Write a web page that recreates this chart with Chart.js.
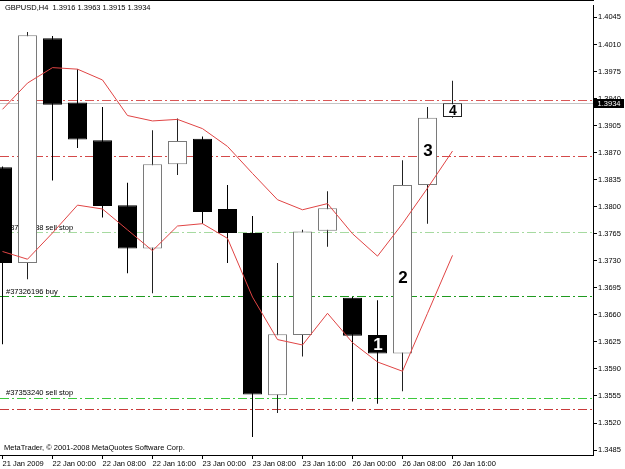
<!DOCTYPE html>
<html>
<head>
<meta charset="utf-8">
<script src="https://cdn.jsdelivr.net/npm/chart.js@4.4.1/dist/chart.umd.min.js"></script>
<style>
html,body{margin:0;padding:0;background:#fff;}
canvas{display:block;}
</style>
</head>
<body>
<canvas id="c" width="625" height="469"></canvas>
<script>
// ---------- DATA ----------
const symbolTitle = "GBPUSD,H4  1.3916 1.3963 1.3915 1.3934";
const copyrightText = "MetaTrader, \u00A9 2001-2008 MetaQuotes Software Corp.";

const barTimes = ["21 Jan 16:00","21 Jan 20:00","22 Jan 00:00","22 Jan 04:00","22 Jan 08:00","22 Jan 12:00",
  "22 Jan 16:00","22 Jan 20:00","23 Jan 00:00","23 Jan 04:00","23 Jan 08:00","23 Jan 12:00",
  "23 Jan 16:00","23 Jan 20:00","26 Jan 00:00","26 Jan 04:00","26 Jan 08:00","26 Jan 12:00","26 Jan 16:00"];
const openP  = [1.3851,1.3727,1.4018,1.3935,1.3886,1.3802,1.3746,1.3855,1.3888,1.3797,1.3766,1.3556,1.3634,1.3769,1.3682,1.3634,1.3610,1.3828,1.3916];
const highP  = [1.3852,1.4026,1.4021,1.3978,1.3929,1.3831,1.3899,1.3914,1.3891,1.3828,1.3788,1.3727,1.3770,1.3820,1.3683,1.3679,1.3860,1.3929,1.3963];
const lowP   = [1.3622,1.3706,1.3834,1.3876,1.3786,1.3714,1.3688,1.3841,1.3778,1.3727,1.3502,1.3533,1.3606,1.3748,1.3548,1.3545,1.3561,1.3778,1.3915];
const closeP = [1.3727,1.4022,1.3932,1.3887,1.3801,1.3746,1.3855,1.3885,1.3793,1.3766,1.3557,1.3635,1.3768,1.3798,1.3633,1.3610,1.3828,1.3915,1.3934];

const upperLine = [1.3926,1.3960,1.3980,1.3978,1.3964,1.3918,1.3911,1.3913,1.3901,1.3878,1.3843,1.3809,1.3796,1.3804,1.3765,1.3736,1.3778,1.3824,1.3872];
const lowerLine = [1.3742,1.3732,1.3766,1.3802,1.3797,1.3770,1.3743,1.3775,1.3778,1.3759,1.3683,1.3628,1.3621,1.3662,1.3624,1.3599,1.3587,1.3662,1.3737];

const xTickIndex  = [0,2,4,6,8,10,12,14,16,18];
const xTickLabels = ["21 Jan 2009","22 Jan 00:00","22 Jan 08:00","22 Jan 16:00","23 Jan 00:00",
  "23 Jan 08:00","23 Jan 16:00","26 Jan 00:00","26 Jan 08:00","26 Jan 16:00"];
const yTickValues = [1.3485,1.3520,1.3555,1.3590,1.3625,1.3660,1.3695,1.3730,1.3765,1.3800,
  1.3835,1.3870,1.3905,1.3940,1.3975,1.4010,1.4045];

const levelPrices = [1.3938,1.3865,1.3767,1.3684,1.3553,1.3538];
const levelTexts  = ["","","#37353238 sell stop","#37326196 buy","#37353240 sell stop",""];
const bidPrice = 1.3934;

const markTexts  = ["1","2","3","4"];
const markBars   = [15,16,17,18];
const markPrices = [1.3620,1.3707,1.3872,1.3924];

// ---------- STYLE ----------
const levelColors = ["#d95757","#d44a4a","#a6daa0","#1f9a1f","#3cc83c","#c83a3a"];
const markColors  = ["#ffffff","#000000","#000000","#000000"];
const markSizes   = [17,17,17,14];
const FONT = '"Liberation Sans", Arial, sans-serif';
const X_MIN = -0.1, X_MAX = 23.62;
const Y_MIN = 1.34786, Y_MAX = 1.40604;
const lastBar = openP.length - 1;

const isUp = i => closeP[i] >= openP[i];

const datasets = [];
// indicator lines (front)
datasets.push({type:'line', data: upperLine.map((v,i)=>({x:i,y:v})), borderColor:'#e04444', borderWidth:1,
  pointRadius:0, tension:0, fill:false, order:0});
datasets.push({type:'line', data: lowerLine.map((v,i)=>({x:i,y:v})), borderColor:'#e04444', borderWidth:1,
  pointRadius:0, tension:0, fill:false, order:0});
// candle bodies
datasets.push({type:'bar', data: openP.map((o,i)=>({x:i,y:[o,closeP[i]]})),
  backgroundColor: c => isUp(c.dataIndex ?? 0) ? '#ffffff' : '#000000',
  borderColor: c => { const i = c.dataIndex ?? 0; return i === lastBar ? '#222222' : (isUp(i) ? '#7a7a7a' : '#000000'); },
  borderWidth:1, borderSkipped:false, inflateAmount:0,
  barThickness:19, maxBarThickness:19, grouped:false, order:1});
// wicks
datasets.push({type:'bar', data: lowP.map((l,i)=>({x:i,y:[l,highP[i]]})),
  backgroundColor: c => isUp(c.dataIndex ?? 0) ? '#222222' : '#000000',
  borderWidth:0, inflateAmount:0,
  barThickness:1, maxBarThickness:1, grouped:false, order:2});

const mtPlugin = {
  id:'mtText',
  beforeDatasetsDraw(chart){
    const {ctx, chartArea, scales:{y}} = chart;
    ctx.save();
    ctx.lineWidth = 1;
    // bid line
    const by = Math.round(y.getPixelForValue(bidPrice)) + 0.5;
    ctx.strokeStyle = '#c4c4c4';
    ctx.beginPath(); ctx.moveTo(chartArea.left, by); ctx.lineTo(chartArea.right, by); ctx.stroke();
    // order levels
    ctx.setLineDash([9,3,2,3]);
    levelPrices.forEach((p,i)=>{
      const py = Math.round(y.getPixelForValue(p)) + 0.5;
      ctx.strokeStyle = levelColors[i];
      ctx.beginPath(); ctx.moveTo(chartArea.left, py); ctx.lineTo(chartArea.right, py); ctx.stroke();
    });
    ctx.setLineDash([]);
    ctx.font = '7.5px ' + FONT;
    ctx.fillStyle = '#000';
    ctx.textBaseline = 'middle';
    ctx.textAlign = 'left';
    levelPrices.forEach((p,i)=>{
      if (levelTexts[i]) ctx.fillText(levelTexts[i], 6, y.getPixelForValue(p) - 4.5);
    });
    ctx.restore();
  },
  afterDatasetsDraw(chart){
    const {ctx, scales:{x,y}} = chart;
    ctx.save();
    ctx.textBaseline = 'middle';
    ctx.textAlign = 'center';
    markTexts.forEach((t,i)=>{
      ctx.font = 'bold ' + markSizes[i] + 'px ' + FONT;
      ctx.fillStyle = markColors[i];
      ctx.fillText(t, x.getPixelForValue(markBars[i]) + 0.5, y.getPixelForValue(markPrices[i]));
    });
    ctx.restore();
  },
  afterDraw(chart){
    const {ctx, chartArea, scales:{y}} = chart;
    ctx.save();
    ctx.fillStyle = '#000';
    ctx.fillRect(0, 0, chartArea.right + 1, 1);
    ctx.font = '7.5px ' + FONT;
    ctx.textBaseline = 'middle';
    ctx.textAlign = 'left';
    ctx.fillText(symbolTitle, 5, 8);
    ctx.fillText(copyrightText, 4, 448);
    const by = Math.round(y.getPixelForValue(bidPrice));
    ctx.fillStyle = '#000';
    ctx.fillRect(594, by - 4, 30, 9);
    ctx.fillStyle = '#fff';
    ctx.textAlign = 'center';
    ctx.fillText(bidPrice.toFixed(4), 609, by + 0.5);
    ctx.restore();
  }
};

new Chart(document.getElementById('c'), {
  type:'bar',
  data:{ datasets },
  plugins:[mtPlugin],
  options:{
    responsive:false,
    animation:false,
    devicePixelRatio:1,
    layout:{ padding:{left:0, top:2, right:0, bottom:0} },
    plugins:{ legend:{display:false}, tooltip:{enabled:false} },
    scales:{
      x:{
        type:'linear', min:X_MIN, max:X_MAX, offset:false,
        grid:{ display:true, drawOnChartArea:false, drawTicks:true, tickLength:4, color:'#000', offset:false },
        border:{ display:true, color:'#000', width:1 },
        afterBuildTicks: s => { s.ticks = xTickIndex.map(v=>({value:v})); },
        afterFit: s => { s.height = 14; },
        ticks:{ autoSkip:false, maxRotation:0, minRotation:0, align:'start', padding:0,
          color:'#000', font:{family:FONT, size:7.5},
          callback:(v,idx)=> xTickLabels[idx] }
      },
      y:{
        type:'linear', position:'right', min:Y_MIN, max:Y_MAX,
        grid:{ display:true, drawOnChartArea:false, drawTicks:true, tickLength:4, color:'#000' },
        border:{ display:true, color:'#000', width:1 },
        afterBuildTicks: s => { s.ticks = yTickValues.map(v=>({value:v})); },
        afterFit: s => { s.width = 32; },
        ticks:{ autoSkip:false, padding:1, color:'#000', font:{family:FONT, size:7.5},
          callback:(v)=> Number(v).toFixed(4) }
      }
    }
  }
});
</script>
</body>
</html>
